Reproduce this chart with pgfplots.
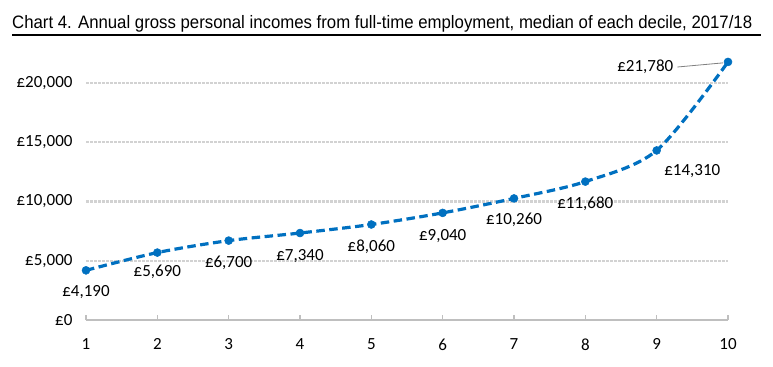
\documentclass[border=0pt]{standalone}
\usepackage{pgfplots}
\pgfplotsset{compat=1.18}
\usepackage{fontspec}
\setmainfont{Carlito}
\newfontfamily\titlefont{Liberation Sans}
\definecolor{lineblue}{RGB}{0,112,192}
\definecolor{gridgrey}{RGB}{210,210,210}
\definecolor{axisgrey}{RGB}{191,191,191}
\begin{document}
\begin{tikzpicture}[x=1bp,y=1bp]
\useasboundingbox (0,0) rectangle (773,366);
% title
\node[anchor=base west, inner sep=0pt] at (12,338) {\resizebox{740bp}{\height}{\titlefont\fontsize{18bp}{19bp}\selectfont Chart 4. Annual gross personal incomes from full-time employment, median of each decile, 2017/18}};
\draw[black, line width=1.8bp] (12,331) -- (761,331);
\begin{axis}[
  at={(86bp,46bp)}, anchor=south west,
  scale only axis, width=642bp, height=266.6bp,
  xmin=1, xmax=10, ymin=0, ymax=22500,
  clip=false,
  axis x line=bottom, axis y line=left,
  x axis line style={axisgrey, line width=2.5bp, -},
  y axis line style={draw=none},
  xtick={1,...,10},
  xtick style={axisgrey, line width=1.5bp},
  ytick style={draw=none},
  tick align=inside,
  major tick length=5bp,
  xticklabel style={font=\fontsize{17bp}{18bp}\selectfont, yshift=-15bp},
  ytick={0,5000,10000,15000,20000},
  scaled y ticks=false,
  ymajorgrids=true,
  grid style={gridgrey, line width=2.4bp, dash pattern=on 2.5bp off 1.5bp},
  yticklabel={\pounds\pgfmathprintnumber{\tick}},
  yticklabel style={font=\fontsize{17bp}{18bp}\selectfont, xshift=-10bp},
  /pgf/number format/assume math mode=true,
  /pgf/number format/.cd, 1000 sep={,},
]
\addplot[lineblue, line width=3.2bp, dash pattern=on 8.5bp off 4.5bp, smooth, tension=0.5,
  mark=*, mark size=4bp, mark options={solid, fill=lineblue, draw=lineblue, line width=0.5bp}]
  coordinates {(1,4190) (2,5690) (3,6700) (4,7340) (5,8060) (6,9040) (7,10260) (8,11680) (9,14310) (10,21780)};
\begin{scope}[every node/.style={font=\fontsize{17bp}{18bp}\selectfont, inner sep=0pt}]
\node at (axis cs:1,2363) {\pounds4,190};
\node at (axis cs:2,4051) {\pounds5,690};
\node at (axis cs:3,4810) {\pounds6,700};
\node at (axis cs:4,5400) {\pounds7,340};
\node at (axis cs:5,6160) {\pounds8,060};
\node at (axis cs:6,7090) {\pounds9,040};
\node at (axis cs:7,8439) {\pounds10,260};
\node at (axis cs:8,9790) {\pounds11,680};
\node at (axis cs:9.5,12570) {\pounds14,310};
\node at (axis cs:8.84,21351) {\pounds21,780};
\end{scope}
\draw[gray, line width=0.8bp] (axis cs:9.29,21351) -- (axis cs:9.93,21700);
\end{axis}
\end{tikzpicture}
\end{document}
